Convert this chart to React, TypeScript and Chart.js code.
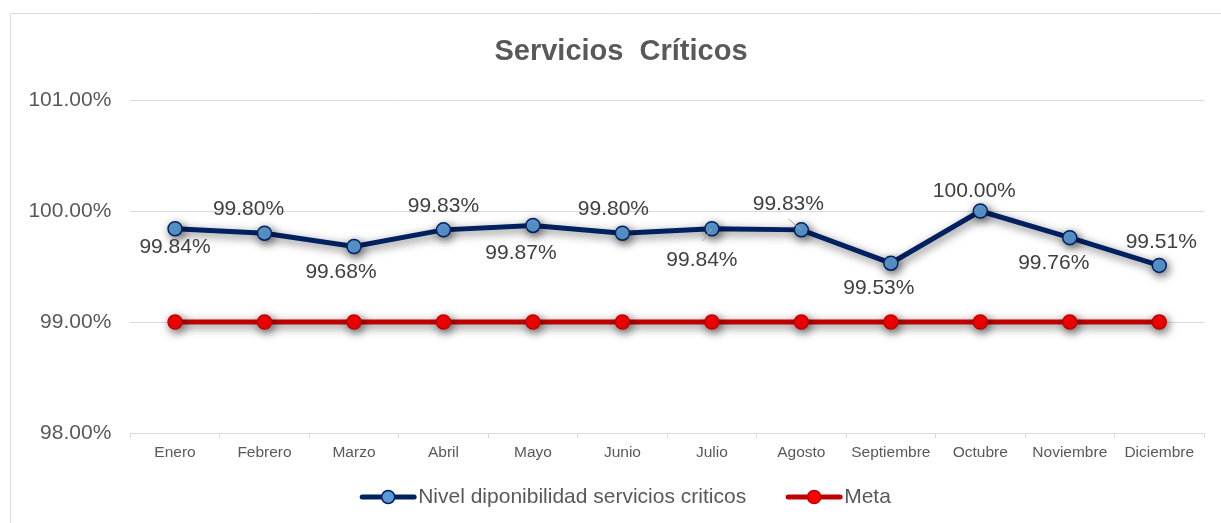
import React, { useEffect, useRef } from 'react';
import { Chart, registerables } from 'chart.js';

Chart.register(...registerables);

const FONT = '"Liberation Sans", Arial, Helvetica, sans-serif';

const chartTitle = 'Servicios  Críticos';
const categories = ['Enero', 'Febrero', 'Marzo', 'Abril', 'Mayo', 'Junio', 'Julio', 'Agosto', 'Septiembre', 'Octubre', 'Noviembre', 'Diciembre'];
const nivelLabel = 'Nivel diponibilidad servicios criticos';
const nivelValues = [99.84, 99.80, 99.68, 99.83, 99.87, 99.80, 99.84, 99.83, 99.53, 100.00, 99.76, 99.51];
const metaLabel = 'Meta';
const metaValues = [99.00, 99.00, 99.00, 99.00, 99.00, 99.00, 99.00, 99.00, 99.00, 99.00, 99.00, 99.00];
const yMin = 98;
const yMax = 101;
const yStep = 1;

// label placement (style), relative to each point: [dx, dy]
const labelOffsets: [number, number][] = [
  [0, 18], [-16, -24], [-13, 26], [0, -24], [-12, 28], [-9, -24],
  [-10, 31], [-13, -26], [-12, 25], [-6, -20], [-16, 26], [2, -23],
];
// leader lines (style): index -> [dx, dy] of the far end
const leaderLines: Record<number, [number, number]> = { 6: [-9, 12], 7: [-13, -11] };

const NAVY = '#002060';
const LIGHT_BLUE = '#5B9BD5';
const DARK_RED = '#C00000';
const RED = '#FF0000';
const GRID = '#d9d9d9';
const TEXT = '#595959';

export default function App() {
  const ref = useRef<HTMLCanvasElement>(null);

  useEffect(() => {
    const canvas = ref.current;
    if (!canvas) return;

    const framePlugin = {
      id: 'frame',
      beforeDraw(chart: any) {
        const ctx = chart.ctx;
        ctx.save();
        ctx.fillStyle = '#ffffff';
        ctx.fillRect(0, 0, chart.width, chart.height);
        ctx.strokeStyle = GRID;
        ctx.lineWidth = 1;
        ctx.beginPath();
        ctx.moveTo(10.5, chart.height);
        ctx.lineTo(10.5, 13.5);
        ctx.lineTo(chart.width, 13.5);
        ctx.stroke();
        ctx.restore();
      },
      afterDraw(chart: any) {
        const ctx = chart.ctx;
        ctx.save();
        // title
        ctx.font = `bold 29px ${FONT}`;
        ctx.fillStyle = TEXT;
        ctx.textAlign = 'center';
        ctx.textBaseline = 'middle';
        ctx.fillText(chartTitle, 621, 52);

        // legend
        const items = [
          { label: nivelLabel, line: NAVY, fill: LIGHT_BLUE, border: NAVY },
          { label: metaLabel, line: DARK_RED, fill: RED, border: DARK_RED },
        ];
        ctx.font = `21px ${FONT}`;
        const lineW = 56;
        const gap = 2;
        const itemGap = 40;
        const widths = items.map((it) => lineW + gap + ctx.measureText(it.label).width);
        const total = widths.reduce((a, b) => a + b, 0) + itemGap * (items.length - 1);
        let x = 625.5 - total / 2;
        const y = 497;
        items.forEach((it, i) => {
          ctx.strokeStyle = it.line;
          ctx.lineWidth = 5;
          ctx.lineCap = 'round';
          ctx.beginPath();
          ctx.moveTo(x + 2, y);
          ctx.lineTo(x + lineW - 2, y);
          ctx.stroke();
          ctx.beginPath();
          ctx.arc(x + lineW / 2, y, 6.5, 0, Math.PI * 2);
          ctx.fillStyle = it.fill;
          ctx.fill();
          ctx.lineWidth = 1.5;
          ctx.strokeStyle = it.border;
          ctx.stroke();
          ctx.fillStyle = TEXT;
          ctx.textAlign = 'left';
          ctx.textBaseline = 'middle';
          ctx.fillText(it.label, x + lineW + gap, y);
          x += widths[i] + itemGap;
        });
        ctx.restore();
      },
    };

    const shadowPlugin = {
      id: 'shadowFx',
      beforeDatasetDraw(chart: any) {
        const ctx = chart.ctx;
        ctx.save();
        ctx.shadowColor = 'rgba(0,0,0,0.55)';
        ctx.shadowBlur = 10;
        ctx.shadowOffsetX = 2;
        ctx.shadowOffsetY = 3;
      },
      afterDatasetDraw(chart: any) {
        chart.ctx.restore();
      },
    };

    const labelPlugin = {
      id: 'dataLabels',
      afterDatasetsDraw(chart: any) {
        const ctx = chart.ctx;
        const meta = chart.getDatasetMeta(0);
        const values = chart.data.datasets[0].data as number[];
        ctx.save();
        meta.data.forEach((pt: any, i: number) => {
          const [dx, dy] = labelOffsets[i];
          const ll = leaderLines[i];
          if (ll) {
            ctx.strokeStyle = '#a6a6a6';
            ctx.lineWidth = 1;
            ctx.beginPath();
            ctx.moveTo(pt.x + ll[0], pt.y + ll[1]);
            ctx.lineTo(pt.x, pt.y);
            ctx.stroke();
          }
          ctx.font = `21px ${FONT}`;
          ctx.fillStyle = '#404040';
          ctx.textAlign = 'center';
          ctx.textBaseline = 'middle';
          ctx.fillText(values[i].toFixed(2) + '%', pt.x + dx, pt.y + dy);
        });
        ctx.restore();
      },
    };

    const chart = new Chart(canvas, {
      type: 'line',
      data: {
        labels: categories,
        datasets: [
          {
            label: nivelLabel,
            data: nivelValues,
            borderColor: NAVY,
            borderWidth: 5,
            backgroundColor: LIGHT_BLUE,
            pointBackgroundColor: LIGHT_BLUE,
            pointBorderColor: NAVY,
            pointBorderWidth: 1.5,
            pointRadius: 7,
            tension: 0,
          },
          {
            label: metaLabel,
            data: metaValues,
            borderColor: DARK_RED,
            borderWidth: 5,
            backgroundColor: RED,
            pointBackgroundColor: RED,
            pointBorderColor: DARK_RED,
            pointBorderWidth: 1.5,
            pointRadius: 7,
            tension: 0,
          },
        ],
      },
      options: {
        responsive: false,
        animation: false,
        devicePixelRatio: 1,
        layout: { padding: { left: 0, top: 100, right: 17, bottom: 0 } },
        plugins: {
          legend: { display: false },
          title: { display: false },
          tooltip: { enabled: false },
        },
        scales: {
          x: {
            type: 'category',
            offset: true,
            grid: {
              offset: true,
              drawOnChartArea: false,
              drawTicks: true,
              tickLength: 5,
              color: GRID,
            },
            border: { display: true, color: GRID, width: 1 },
            ticks: {
              color: TEXT,
              font: { family: FONT, size: 15.5 },
              padding: 5,
              maxRotation: 0,
              autoSkip: false,
            },
            afterFit(scale: any) {
              scale.height = 90;
            },
          },
          y: {
            min: yMin,
            max: yMax,
            grid: { color: GRID, drawTicks: false },
            border: { display: false },
            ticks: {
              stepSize: yStep,
              color: TEXT,
              font: { family: FONT, size: 21 },
              padding: 19,
              callback: (v: any) => Number(v).toFixed(2) + '%',
            },
            afterFit(scale: any) {
              scale.width = 130.3;
            },
          },
        },
      },
      plugins: [framePlugin, shadowPlugin, labelPlugin],
    });

    return () => chart.destroy();
  }, []);

  return (
    <div style={{ position: 'fixed', left: 0, top: 0, width: 1221, height: 523, background: '#fff' }}>
      <canvas ref={ref} width={1221} height={523} style={{ display: 'block', width: 1221, height: 523 }} />
    </div>
  );
}
